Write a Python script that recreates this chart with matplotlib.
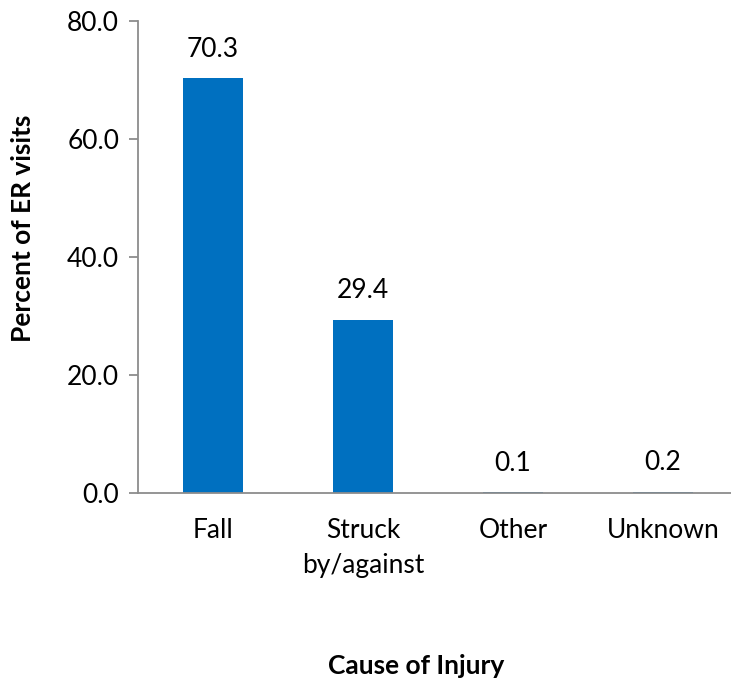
import numpy as np
import matplotlib
matplotlib.use('Agg')
import matplotlib.pyplot as plt

categories = ['Fall', 'Struck\nby/against', 'Other', 'Unknown']
percent = [70.3, 29.4, 0.1, 0.2]
y_ticks = [0, 20, 40, 60, 80]

plt.rcParams['font.family'] = ['Lato', 'DejaVu Sans']

fig = plt.figure(figsize=(7.31, 6.8), dpi=100)
ax = fig.add_axes([138 / 731, 187 / 680, 600 / 731, 472 / 680])

x = np.arange(len(categories))
bars = ax.bar(x, percent, width=0.4, color='#0070C0')

for xi, v in zip(x, percent):
    ax.annotate(f'{v:.1f}', (xi, v), xytext=(0, 12), textcoords='offset points',
                ha='center', va='bottom', fontsize=19, color='black')

ax.set_xlim(-0.5, 3.5)
ax.set_ylim(0, 80)
ax.set_yticks(y_ticks)
ax.set_yticklabels([f'{t:.1f}' for t in y_ticks])
ax.set_xticks(x)
ax.set_xticklabels(categories, linespacing=1.5)

for s in ['top', 'right']:
    ax.spines[s].set_visible(False)
for s in ['left', 'bottom']:
    ax.spines[s].set_color('#8c8c8c')
    ax.spines[s].set_linewidth(1.3)

ax.tick_params(axis='y', length=6.5, width=1.3, color='#8c8c8c', labelsize=19, pad=7)
ax.tick_params(axis='x', length=0, labelsize=19, pad=18)

ax.set_ylabel('Percent of ER visits', fontsize=19, fontweight='bold')
ax.set_xlabel('Cause of Injury', fontsize=19, fontweight='bold')
ax.yaxis.set_label_coords(-0.172, 0.56)
ax.xaxis.set_label_coords(0.463, -0.341)

fig.savefig('out.png', dpi=100)
